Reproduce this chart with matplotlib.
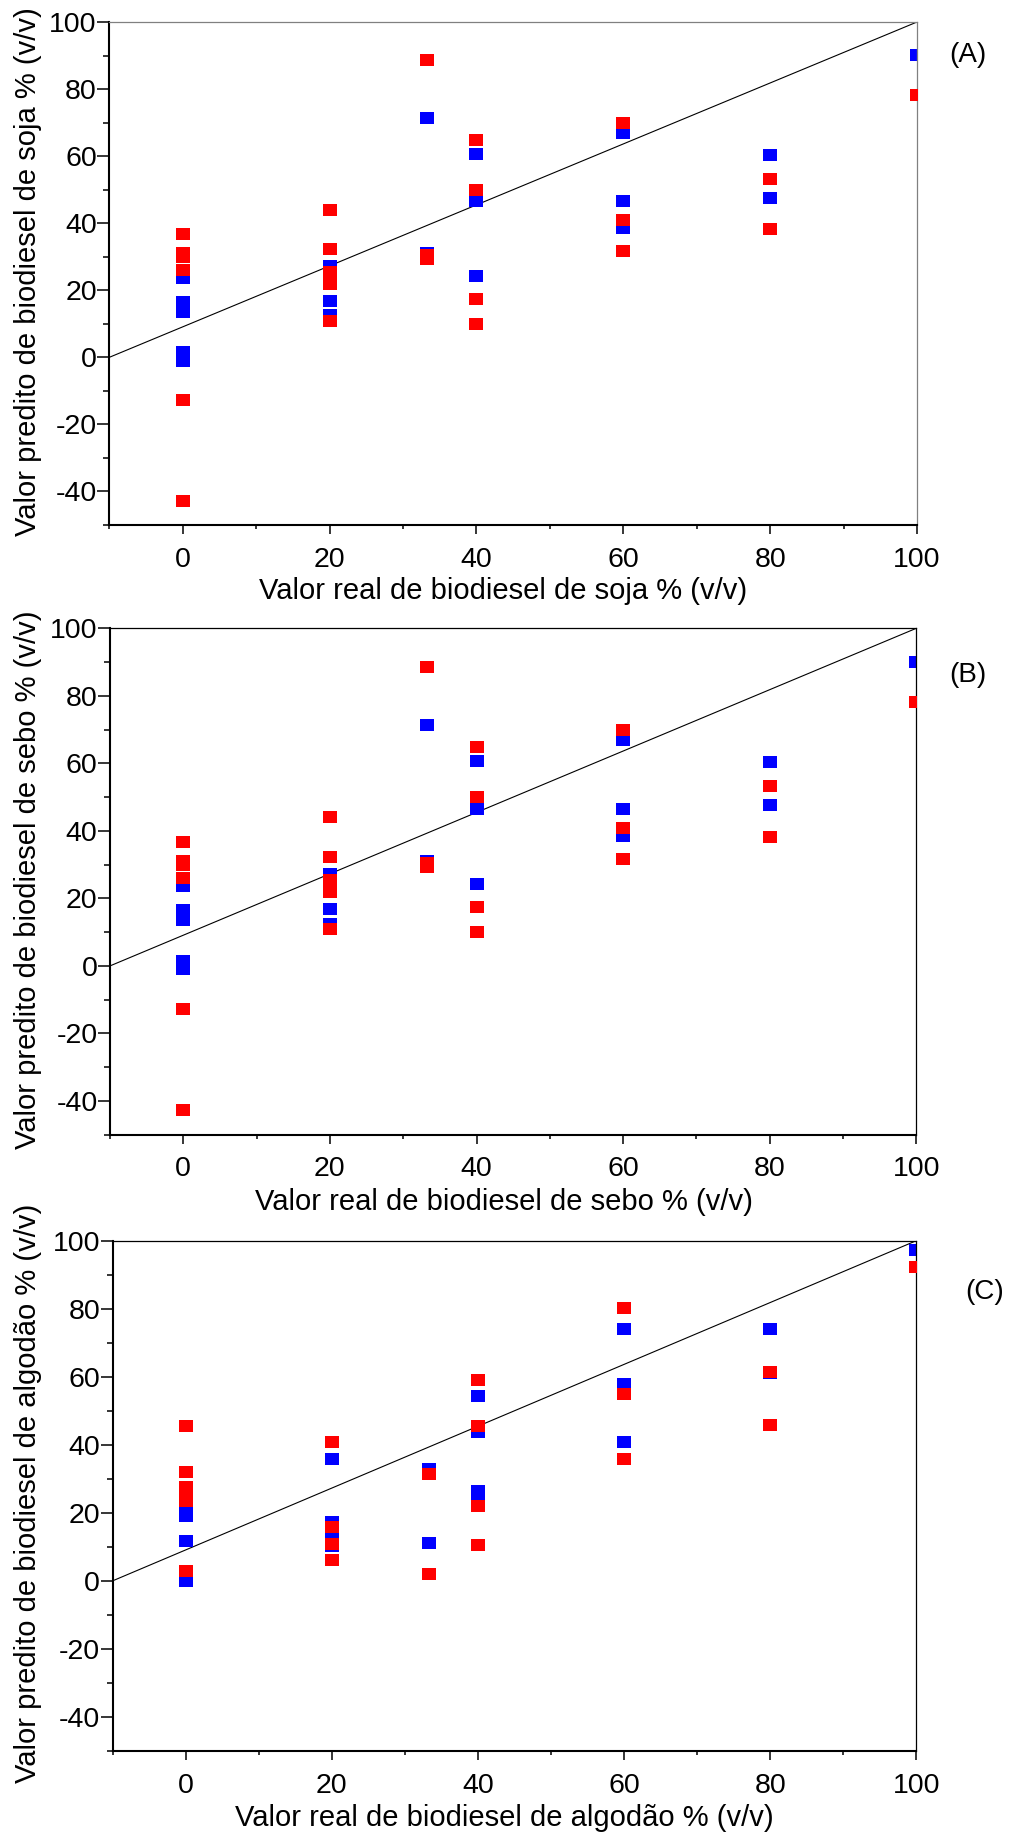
import numpy as np
import matplotlib
matplotlib.use('Agg')
import matplotlib.pyplot as plt
from matplotlib.ticker import MultipleLocator

plt.rcParams['font.family'] = ['Liberation Sans', 'DejaVu Sans']
plt.rcParams['axes.unicode_minus'] = False

# valores (real, predito)
# (A) soja
soja_x_azul = [0, 0, 0, 0, 0, 0, 20, 20, 20, 33.3, 33.3, 40, 40, 40, 60, 60, 60, 80, 80, 100]
soja_y_azul = [23.7, 16.5, 15.0, 13.5, 1.5, -1.0, 27.2, 16.8, 12.5, 71.3, 31.1,
               60.6, 46.5, 24.4, 67.0, 46.6, 38.6, 60.4, 47.6, 90.1]
soja_x_verm = [0, 0, 0, 0, 0, 0, 20, 20, 20, 20, 20, 20, 33.3, 33.3, 33.3,
               40, 40, 40, 40, 60, 60, 60, 80, 80, 100]
soja_y_verm = [36.8, 31.0, 29.8, 26.0, -12.7, -42.7, 44.0, 32.4, 25.3, 23.5, 21.8, 10.8,
               88.6, 30.4, 29.2, 64.7, 50.0, 17.3, 9.9, 69.9, 40.9, 31.8, 53.2, 38.3, 78.1]

# (B) sebo
sebo_x_azul = [0, 0, 0, 0, 0, 0, 20, 20, 20, 33.3, 33.3, 40, 40, 40, 60, 60, 60, 80, 80, 100]
sebo_y_azul = [23.7, 16.5, 15.0, 13.5, 1.5, -1.0, 27.2, 16.8, 12.5, 71.3, 31.1,
               60.6, 46.5, 24.4, 67.0, 46.6, 38.6, 60.4, 47.6, 90.1]
sebo_x_verm = [0, 0, 0, 0, 0, 0, 20, 20, 20, 20, 20, 20, 33.3, 33.3, 33.3,
               40, 40, 40, 40, 60, 60, 60, 80, 80, 100]
sebo_y_verm = [36.8, 31.0, 29.8, 26.0, -12.7, -42.7, 44.0, 32.4, 25.3, 23.5, 21.8, 10.8,
               88.6, 30.4, 29.2, 64.7, 50.0, 17.3, 9.9, 69.9, 40.9, 31.8, 53.2, 38.3, 78.1]

# (C) algodao
alg_x_azul = [0, 0, 0, 0, 20, 20, 20, 20, 33.3, 33.3, 40, 40, 40, 40,
              60, 60, 60, 80, 80, 100]
alg_y_azul = [21.0, 19.0, 11.6, 0.0, 35.8, 17.2, 13.8, 10.3, 32.9, 11.1,
              54.4, 43.7, 26.5, 25.0, 74.0, 58.0, 40.7, 74.0, 61.0, 97.3]
alg_x_verm = [0, 0, 0, 0, 0, 0, 20, 20, 20, 20, 33.3, 33.3, 40, 40, 40, 40,
              60, 60, 60, 80, 80, 100]
alg_y_verm = [45.4, 32.0, 27.5, 25.5, 23.5, 3.0, 40.9, 15.9, 10.8, 6.1, 31.4, 2.0,
              59.2, 45.6, 22.1, 10.6, 80.1, 54.8, 35.7, 61.4, 45.8, 92.2]

linha_x = [-10, 100]
linha_y = [0, 100]

xlabels = ['Valor real de biodiesel de soja % (v/v)',
           'Valor real de biodiesel de sebo % (v/v)',
           'Valor real de biodiesel de algodão % (v/v)']
ylabels = ['Valor predito de biodiesel de soja % (v/v)',
           'Valor predito de biodiesel de sebo % (v/v)',
           'Valor predito de biodiesel de algodão % (v/v)']
letras = ['(A)', '(B)', '(C)']

W, H = 1013, 1834
fig = plt.figure(figsize=(W / 100, H / 100), dpi=100)

# posicoes dos eixos em pixels: esquerda, topo, direita, baixo
caixas = [(109.3, 22, 917, 525), (110, 628.3, 916.3, 1134.7), (112.5, 1240.7, 916.3, 1751)]
letra_pos = [(968, 55), (968, 675), (985, 1292)]
cor_borda = ['#808080', 'black', 'black']

dados = [(soja_x_azul, soja_y_azul, soja_x_verm, soja_y_verm),
         (sebo_x_azul, sebo_y_azul, sebo_x_verm, sebo_y_verm),
         (alg_x_azul, alg_y_azul, alg_x_verm, alg_y_verm)]

# marcador retangular (um pouco mais largo que alto)
ret = [(-1, -0.8), (1, -0.8), (1, 0.8), (-1, 0.8), (-1, -0.8)]

for i in range(3):
    l, t, r, b = caixas[i]
    ax = fig.add_axes([l / W, 1 - b / H, (r - l) / W, (b - t) / H])
    xa, ya, xv, yv = dados[i]

    ax.plot(linha_x, linha_y, color='black', lw=0.8, zorder=1)
    ax.scatter(xa, ya, marker=ret, s=10 ** 2, color='#0000ff', linewidths=0, zorder=2)
    ax.scatter(xv, yv, marker=ret, s=10 ** 2, color='#ff0000', linewidths=0, zorder=3)

    ax.set_xlim(-10, 100)
    ax.set_ylim(-50, 100)
    ax.xaxis.set_major_locator(MultipleLocator(20))
    ax.xaxis.set_minor_locator(MultipleLocator(10))
    ax.yaxis.set_major_locator(MultipleLocator(20))
    ax.yaxis.set_minor_locator(MultipleLocator(10))
    ax.set_yticks([-40, -20, 0, 20, 40, 60, 80, 100])

    ax.tick_params(axis='x', which='major', length=6.5, width=1.1, pad=9, labelsize=20.5)
    ax.tick_params(axis='x', which='minor', length=3, width=1.1)
    ax.tick_params(axis='y', which='major', length=9, width=1.1, pad=0, labelsize=20.5)
    ax.tick_params(axis='y', which='minor', length=4.5, width=1.1)

    for s in ['left', 'bottom']:
        ax.spines[s].set_linewidth(1.5)
        ax.spines[s].set_color('black')
    for s in ['top', 'right']:
        ax.spines[s].set_linewidth(0.9)
        ax.spines[s].set_color(cor_borda[i])

    ax.set_xlabel(xlabels[i], fontsize=21, va='center')
    ax.xaxis.set_label_coords(0.488, -0.132)
    fig.text(28 / W, 1 - ((t + b) / 2 - 2) / H, ylabels[i], fontsize=21,
             rotation=90, ha='center', va='center')

    fig.text(letra_pos[i][0] / W, 1 - letra_pos[i][1] / H, letras[i],
             fontsize=20, ha='center', va='center')

fig.savefig('out.png', dpi=100)
